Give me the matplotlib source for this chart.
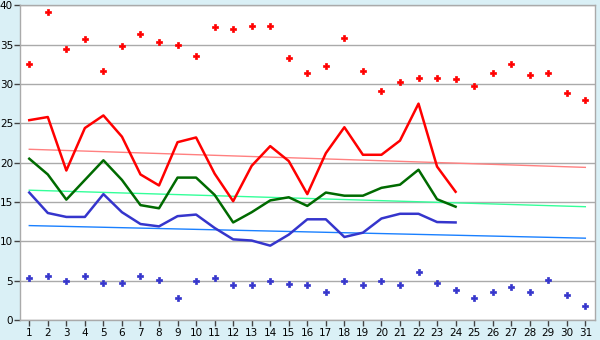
import numpy as np
import matplotlib
matplotlib.use("Agg")
import matplotlib.pyplot as plt

# Daily values, days 1..31
days = list(range(1, 32))

# Scattered daily readings (upper and lower)
high_points = [32.5, 39.1, 34.5, 35.7, 31.7, 34.8, 36.4, 35.3, 34.9, 33.5,
               37.2, 37.0, 37.4, 37.4, 33.3, 31.4, 32.3, 35.8, 31.7, 29.1,
               30.2, 30.7, 30.7, 30.6, 29.8, 31.4, 32.5, 31.1, 31.4, 28.8, 28.0]
low_points = [5.4, 5.6, 5.0, 5.6, 4.7, 4.7, 5.6, 5.1, 2.8, 5.0,
              5.4, 4.4, 4.4, 5.0, 4.6, 4.4, 3.6, 5.0, 4.4, 5.0,
              4.4, 6.1, 4.7, 3.8, 2.8, 3.5, 4.2, 3.6, 5.1, 3.2, 1.8]

# Line series, days 1..24
red_line = [25.4, 25.8, 19.0, 24.4, 26.0, 23.3, 18.5, 17.1, 22.6, 23.2,
            18.6, 15.1, 19.6, 22.1, 20.2, 16.0, 21.2, 24.5, 21.0, 21.0,
            22.8, 27.5, 19.5, 16.3]
green_line = [20.5, 18.5, 15.3, 17.8, 20.3, 17.8, 14.6, 14.2, 18.1, 18.1,
              15.9, 12.4, 13.7, 15.2, 15.6, 14.5, 16.2, 15.8, 15.8, 16.8,
              17.2, 19.1, 15.35, 14.4]
blue_line = [16.2, 13.6, 13.1, 13.1, 16.0, 13.7, 12.2, 11.9, 13.2, 13.4,
             11.7, 10.25, 10.1, 9.45, 10.85, 12.8, 12.8, 10.55, 11.1, 12.9,
             13.5, 13.5, 12.45, 12.4]

# Trend lines: value on day 1 and day 31
red_trend = [21.7, 19.4]
green_trend = [16.5, 14.4]
blue_trend = [12.0, 10.4]

line_days = days[:len(red_line)]
trend_days = [days[0], days[-1]]

bg = "#daf0f6"
grid_c = "#aaaaaa"

fig = plt.figure(figsize=(6, 3.4), dpi=100, facecolor=bg)
ax = fig.add_axes([20 / 600, 1 - 320 / 340, 574.6 / 600, 314.7 / 340])
ax.set_facecolor("white")

# Trend lines
ax.plot(trend_days, red_trend, color="#ff8080", lw=1, zorder=2)
ax.plot(trend_days, green_trend, color="#33ff99", lw=1, zorder=2)
ax.plot(trend_days, blue_trend, color="#1a80ff", lw=1, zorder=2)

# Main lines
ax.plot(line_days, red_line, color="#ff0000", lw=1.8, zorder=3)
ax.plot(line_days, green_line, color="#006a00", lw=1.8, zorder=3)
ax.plot(line_days, blue_line, color="#3535cc", lw=1.8, zorder=3)

# Scattered points
ax.plot(days, high_points, linestyle="none", marker="P", ms=4,
        color="#ff0000", mec="#ff0000", mew=0.5, zorder=4)
ax.plot(days, low_points, linestyle="none", marker="P", ms=4,
        color="#3535cc", mec="#3535cc", mew=0.5, zorder=4)

ax.set_xlim(0.5, 31.5)
ax.set_ylim(0, 40)
ax.set_xticks(days)
ax.set_yticks(np.arange(0, 41, 5))
ax.yaxis.grid(True, color=grid_c, lw=1)
ax.set_axisbelow(True)

for s in ax.spines.values():
    s.set_color(grid_c)
    s.set_linewidth(1)

ax.tick_params(axis="both", colors="#444444", labelcolor="black",
               labelsize=7.5, length=4, width=1)
ax.tick_params(axis="x", pad=2)
ax.tick_params(axis="y", pad=1)

fig.savefig("out.png", dpi=100, facecolor=bg)
